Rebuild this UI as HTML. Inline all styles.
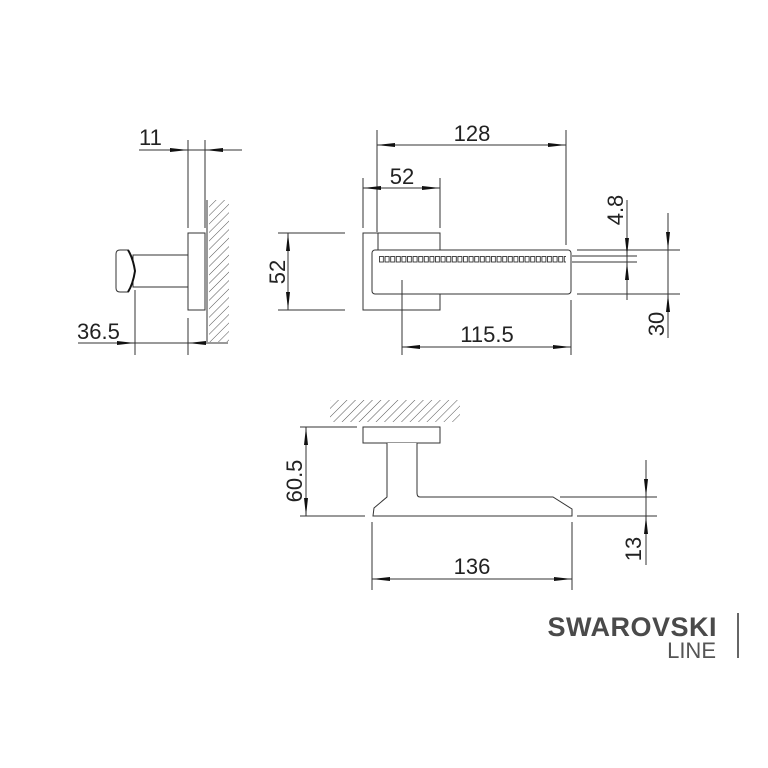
<!DOCTYPE html>
<html><head><meta charset="utf-8"><style>
html,body{margin:0;padding:0;background:#fff;}
svg{display:block;}
text{font-family:"Liberation Sans",sans-serif;fill:#222;}
</style></head><body>
<svg width="768" height="768" viewBox="0 0 768 768" xmlns="http://www.w3.org/2000/svg">
<defs>
<pattern id="hatch" width="6" height="6" patternUnits="userSpaceOnUse" patternTransform="rotate(45)">
<line x1="0" y1="0" x2="0" y2="6" stroke="#555" stroke-width="1"/>
</pattern>
<pattern id="dots" x="379" y="256" width="5.6" height="7" patternUnits="userSpaceOnUse">
<rect x="0.5" y="0.5" width="4" height="5.5" fill="none" stroke="#333" stroke-width="0.9"/>
</pattern>
</defs>
<g stroke="#333" stroke-width="1" fill="none">
<line x1="139" y1="150" x2="242" y2="150"/>
<line x1="188" y1="140" x2="188" y2="228"/>
<line x1="205" y1="140" x2="205" y2="228"/>
<line x1="207" y1="200" x2="207" y2="342"/>
<rect x="188" y="233" width="17" height="77" fill="#fff"/>
<rect x="133" y="255" width="55" height="32" fill="#fff"/>
<path d="M120,250 L128,250 Q133,258 135,271 Q133,284 128,292 L120,292 Q116,292 116,288 L116,254 Q116,250 120,250 Z" fill="#fff"/>
<path d="M128,250 Q133,258 135,271 Q133,284 128,292" stroke="#111" stroke-width="2"/>
<line x1="78" y1="343" x2="228" y2="343"/>
<line x1="135" y1="290" x2="135" y2="355"/>
<line x1="188" y1="318" x2="188" y2="355"/>
<line x1="377" y1="145" x2="566" y2="145"/>
<line x1="377" y1="130" x2="377" y2="232"/>
<line x1="566" y1="130" x2="566" y2="245"/>
<line x1="363" y1="188" x2="440" y2="188"/>
<line x1="363" y1="178" x2="363" y2="228"/>
<line x1="440" y1="178" x2="440" y2="228"/>
<rect x="363" y="233" width="77" height="77" fill="#fff"/>
<rect x="372" y="250" width="199" height="44" rx="3" fill="#fff"/>
<rect x="379" y="256" width="187" height="7" fill="url(#dots)" stroke="none"/>
<line x1="378" y1="233" x2="378" y2="250"/>
<line x1="402" y1="280" x2="402" y2="355"/>
<line x1="571" y1="300" x2="571" y2="355"/>
<line x1="402" y1="347" x2="571" y2="347"/>
<line x1="288" y1="233" x2="288" y2="310"/>
<line x1="278" y1="233" x2="345" y2="233"/>
<line x1="278" y1="310" x2="345" y2="310"/>
<line x1="572" y1="256" x2="637" y2="256"/>
<line x1="572" y1="262" x2="637" y2="262"/>
<line x1="627" y1="200" x2="627" y2="300"/>
<line x1="577" y1="250" x2="680" y2="250"/>
<line x1="577" y1="294" x2="680" y2="294"/>
<line x1="668" y1="213" x2="668" y2="338"/>
<line x1="300" y1="427" x2="357" y2="427"/>
<rect x="363" y="427" width="77" height="16" fill="#fff"/>
<path d="M387,443 L387,497 L374,508 L373,516 L572,516 L572,509 L553,497 L420,497 Q417,497 417,493 L417,443" fill="#fff"/>
<line x1="306" y1="427" x2="306" y2="516"/>
<line x1="300" y1="516" x2="365" y2="516"/>
<line x1="560" y1="497" x2="657" y2="497"/>
<line x1="577" y1="516" x2="657" y2="516"/>
<line x1="646" y1="460" x2="646" y2="565"/>
<line x1="372" y1="522" x2="372" y2="590"/>
<line x1="572" y1="522" x2="572" y2="590"/>
<line x1="372" y1="579" x2="572" y2="579"/>
</g>
<rect x="209" y="200" width="20" height="142" fill="url(#hatch)"/>
<rect x="330" y="400" width="130" height="22" fill="url(#hatch)"/>
<g fill="#111">
<polygon points="170,148 188,150 170,152"/><polygon points="223,148 205,150 223,152"/>
<polygon points="117,341 135,343 117,345"/><polygon points="206,341 188,343 206,345"/>
<polygon points="395,143 377,145 395,147"/><polygon points="548,143 566,145 548,147"/>
<polygon points="381,186 363,188 381,190"/><polygon points="422,186 440,188 422,190"/>
<polygon points="286,251 288,233 290,251"/><polygon points="286,292 288,310 290,292"/>
<polygon points="420,345 402,347 420,349"/><polygon points="553,345 571,347 553,349"/>
<polygon points="625,238 627,256 629,238"/><polygon points="625,280 627,262 629,280"/>
<polygon points="666,232 668,250 670,232"/><polygon points="666,312 668,294 670,312"/>
<polygon points="304,445 306,427 308,445"/><polygon points="304,498 306,516 308,498"/>
<polygon points="644,479 646,497 648,479"/><polygon points="644,534 646,516 648,534"/>
<polygon points="390,577 372,579 390,581"/><polygon points="554,577 572,579 554,581"/>
</g>
<g font-size="22">
<text x="139" y="145">11</text>
<text x="77" y="339">36.5</text>
<text x="472" y="141" text-anchor="middle">128</text>
<text x="402" y="184" text-anchor="middle">52</text>
<text x="487" y="342" text-anchor="middle">115.5</text>
<text x="472" y="574" text-anchor="middle">136</text>
<text transform="translate(285,272) rotate(-90)" text-anchor="middle">52</text>
<text transform="translate(623,210) rotate(-90)" text-anchor="middle">4.8</text>
<text transform="translate(664,324) rotate(-90)" text-anchor="middle">30</text>
<text transform="translate(302,481) rotate(-90)" text-anchor="middle">60.5</text>
<text transform="translate(641,549) rotate(-90)" text-anchor="middle">13</text>
</g>
<text x="717" y="636" font-size="27" font-weight="bold" text-anchor="end" style="fill:#4a4a4a;letter-spacing:0.5px">SWAROVSKI</text>
<text x="716" y="658" font-size="22" text-anchor="end" style="fill:#555">LINE</text>
<rect x="737" y="613" width="2" height="45" fill="#666"/>
</svg>
</body></html>
